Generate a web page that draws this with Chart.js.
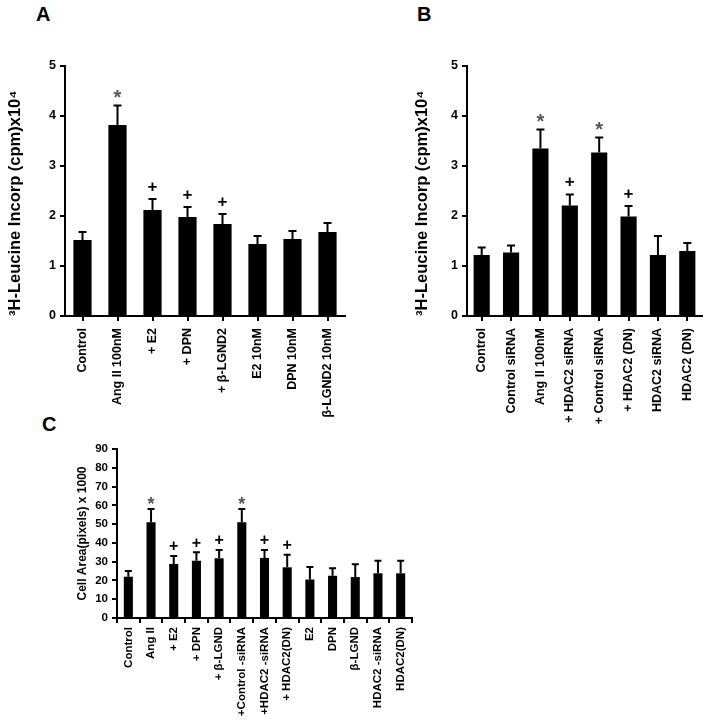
<!DOCTYPE html>
<html>
<head>
<meta charset="utf-8">
<script src="https://cdn.jsdelivr.net/npm/chart.js@4.4.1/dist/chart.umd.min.js"></script>
<style>
  body { margin: 0; background: #fff; width: 712px; height: 721px; position: relative; overflow: hidden; }
  canvas { position: absolute; }
  .panel { position: absolute; font: bold 20px "Liberation Sans", Arial, sans-serif; line-height: 20px; color: #000; }
</style>
</head>
<body>
<div class="panel" style="left:36px;top:4px">A</div>
<div class="panel" style="left:417px;top:4px">B</div>
<div class="panel" style="left:42px;top:414px">C</div>
<canvas id="chart-a" width="360" height="430" style="left:0;top:0"></canvas>
<canvas id="chart-b" width="352" height="440" style="left:360px;top:0"></canvas>
<canvas id="chart-c" width="440" height="306" style="left:0;top:415px"></canvas>
<script>
// panel A - 3H-leucine incorporation, ER agonists
const labelsA = ['Control', 'Ang II 100nM', '+ E2', '+ DPN', '+ β-LGND2', 'E2 10nM', 'DPN 10nM', 'β-LGND2 10nM'];
const valuesA = [1.52, 3.82, 2.12, 1.98, 1.84, 1.44, 1.54, 1.68];
const errorsA = [0.16, 0.39, 0.22, 0.20, 0.20, 0.16, 0.16, 0.18];
const marksA = ['', '*', '+', '+', '+', '', '', ''];

// panel B - 3H-leucine incorporation, HDAC2 knockdown
const labelsB = ['Control', 'Control siRNA', 'Ang II 100nM', '+ HDAC2 siRNA', '+ Control siRNA', '+ HDAC2 (DN)', 'HDAC2 siRNA', 'HDAC2 (DN)'];
const valuesB = [1.22, 1.27, 3.35, 2.21, 3.27, 1.99, 1.22, 1.30];
const errorsB = [0.15, 0.14, 0.38, 0.22, 0.30, 0.21, 0.38, 0.16];
const marksB = ['', '', '*', '+', '*', '+', '', ''];

// panel C - cell area
const labelsC = ['Control', 'Ang II', '+ E2', '+ DPN', '+ β-LGND', '+Control -siRNA', '+HDAC2 -siRNA', '+ HDAC2(DN)', 'E2', 'DPN', 'β-LGND', 'HDAC2 -siRNA', 'HDAC2(DN)'];
const valuesC = [22, 51, 28.8, 30.5, 31.8, 51, 32, 27, 20.5, 22.5, 21.8, 23.8, 23.8];
const errorsC = [3, 7, 4.2, 4.5, 4.4, 7, 4.2, 6.7, 6.7, 4, 6.8, 6.7, 6.7];
const marksC = ['', '*', '+', '+', '+', '*', '+', '+', '', '', '', '', ''];

const yTicksAB = { min: 0, max: 5, step: 1 };
const yTicksC = { min: 0, max: 90, step: 10 };

const FONT = '"Liberation Sans", Arial, sans-serif';

// SEM bars (cap on top only) plus significance marks
const errorBars = {
  id: 'errorBars',
  afterDatasetsDraw(chart, args, opts) {
    const ctx = chart.ctx;
    const y = chart.scales.y;
    const ds = chart.data.datasets[0];
    const meta = chart.getDatasetMeta(0);
    ctx.save();
    ctx.strokeStyle = '#000';
    ctx.lineWidth = 2;
    ctx.textAlign = 'center';
    ctx.textBaseline = 'middle';
    meta.data.forEach((bar, i) => {
      const top = y.getPixelForValue(ds.data[i] + ds.errors[i]);
      ctx.beginPath();
      ctx.moveTo(bar.x, bar.y);
      ctx.lineTo(bar.x, top);
      ctx.moveTo(bar.x - opts.cap, top);
      ctx.lineTo(bar.x + opts.cap, top);
      ctx.stroke();
      const m = ds.marks[i];
      if (m === '*') {
        ctx.fillStyle = '#555';
        ctx.font = 'bold ' + opts.starSize + 'px ' + FONT;
        ctx.fillText('*', bar.x, top - opts.gap + opts.starSize * 0.25);
      } else if (m === '+') {
        ctx.fillStyle = '#000';
        ctx.font = 'bold ' + opts.plusSize + 'px ' + FONT;
        ctx.fillText('+', bar.x, top - opts.gap);
      }
    });
    ctx.restore();
  }
};

function makeChart(id, cfg) {
  const canvas = document.getElementById(id);
  return new Chart(canvas, {
    type: 'bar',
    data: {
      labels: cfg.labels,
      datasets: [{
        data: cfg.values,
        errors: cfg.errors,
        marks: cfg.marks,
        backgroundColor: '#000',
        borderWidth: 0,
        barPercentage: cfg.barPct,
        categoryPercentage: 1
      }]
    },
    options: {
      responsive: false,
      animation: false,
      layout: { padding: cfg.padding },
      plugins: {
        legend: { display: false },
        tooltip: { enabled: false },
        errorBars: cfg.err
      },
      scales: {
        x: {
          grid: { offset: cfg.gridOffset, drawOnChartArea: false, color: '#000', lineWidth: 2, tickLength: 5 },
          border: { color: '#000', width: 2 },
          ticks: {
            autoSkip: false, minRotation: 90, maxRotation: 90, color: '#000', padding: cfg.xPad,
            font: { family: FONT, weight: 'bold', size: cfg.xFont }
          },
          afterFit: s => { s.height = cfg.xHeight; }
        },
        y: {
          min: cfg.yTicks.min,
          max: cfg.yTicks.max,
          grid: { drawOnChartArea: false, color: '#000', lineWidth: 2, tickLength: 5 },
          border: { color: '#000', width: 2 },
          ticks: {
            stepSize: cfg.yTicks.step, color: '#000', padding: 4,
            font: { family: FONT, weight: 'bold', size: cfg.yFont }
          },
          title: {
            display: true, text: cfg.yTitle, color: '#000', align: cfg.titleAlign,
            padding: { top: cfg.titlePad, bottom: 0 },
            font: { family: FONT, weight: 'bold', size: cfg.titleFont }
          },
          afterFit: s => { s.width = cfg.yWidth; }
        }
      }
    },
    plugins: [errorBars]
  });
}

makeChart('chart-a', {
  labels: labelsA, values: valuesA, errors: errorsA, marks: marksA,
  barPct: 0.52, gridOffset: false, yTicks: yTicksAB,
  padding: { top: 66, right: 15, bottom: 0, left: 0 },
  xHeight: 114, yWidth: 65, xPad: 7, xFont: 12.5, yFont: 12.5,
  yTitle: '³H-Leucine Incorp (cpm)x10⁴', titleFont: 16.5, titlePad: 6, titleAlign: 'start',
  err: { cap: 4, gap: 12, starSize: 20, plusSize: 17 }
});

makeChart('chart-b', {
  labels: labelsB, values: valuesB, errors: errorsB, marks: marksB,
  barPct: 0.55, gridOffset: false, yTicks: yTicksAB,
  padding: { top: 66, right: 10, bottom: 0, left: 0 },
  xHeight: 124, yWidth: 107, xPad: 7, xFont: 12.5, yFont: 12.5,
  yTitle: '³H-Leucine Incorp (cpm)x10⁴', titleFont: 16.5, titlePad: 53, titleAlign: 'start',
  err: { cap: 4, gap: 12, starSize: 20, plusSize: 17 }
});

makeChart('chart-c', {
  labels: labelsC, values: valuesC, errors: errorsC, marks: marksC,
  barPct: 0.4, gridOffset: true, yTicks: yTicksC,
  padding: { top: 34, right: 28, bottom: 0, left: 0 },
  xHeight: 103, yWidth: 117, xPad: 4, xFont: 11.5, yFont: 11.5,
  yTitle: 'Cell Area(pixels) x 1000', titleFont: 12, titlePad: 75, titleAlign: 'center',
  err: { cap: 3.5, gap: 9, starSize: 18, plusSize: 16 }
});
</script>
</body>
</html>
